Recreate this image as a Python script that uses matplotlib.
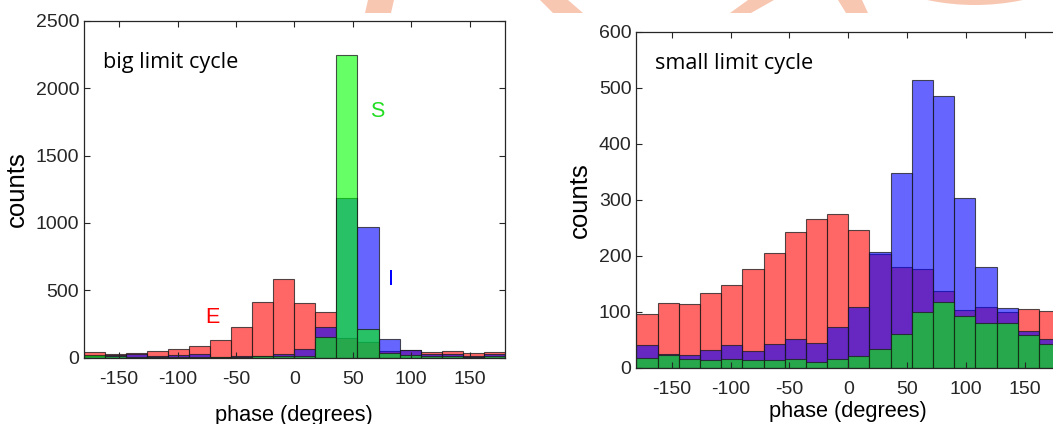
import numpy as np
import matplotlib
matplotlib.use("Agg")
import matplotlib.pyplot as plt
from matplotlib.patches import Polygon, Ellipse

plt.rcParams["axes.unicode_minus"] = False

# phase histograms, 20 bins of 18 degrees over [-180, 180]
edges = np.linspace(-180, 180, 21)
centers = (edges[:-1] + edges[1:]) / 2

# big limit cycle counts per bin
big_E = [45, 25, 32, 50, 67, 87, 129, 225, 410, 581, 403, 336, 150, 115, 52, 60, 40, 48, 35, 40]
big_I = [15, 20, 25, 10, 20, 25, 8, 10, 15, 25, 65, 229, 1182, 973, 136, 60, 25, 30, 15, 25]
big_S = [20, 10, 5, 5, 8, 5, 8, 8, 12, 10, 15, 157, 2245, 210, 35, 20, 15, 10, 8, 10]

# small limit cycle counts per bin
small_E = [95, 115, 113, 133, 147, 176, 204, 242, 265, 274, 245, 203, 179, 176, 137, 103, 108, 99, 104, 101]
small_I = [40, 25, 22, 31, 40, 30, 43, 51, 44, 73, 108, 207, 347, 513, 486, 303, 180, 106, 65, 51]
small_S = [18, 23, 15, 13, 16, 14, 13, 16, 11, 16, 21, 34, 60, 100, 118, 93, 80, 79, 59, 43]

tick_font = "Liberation Sans"
note_font = "Open Sans"

fig = plt.figure(figsize=(10.53, 4.24), dpi=100)


def panel(rect, E, I, S, ymax, yticks, title, title_y, xpad):
    ax = fig.add_axes(rect)
    for counts, rgb in ((E, (1, 0, 0)), (I, (0, 0, 1)), (S, (0, 1, 0))):
        ax.hist(centers, bins=edges, weights=counts,
                facecolor=rgb + (0.6,), edgecolor=(0.1, 0.1, 0.1, 0.75),
                linewidth=0.8)
    ax.set_xlim(-180, 180)
    ax.set_ylim(0, ymax)
    ax.set_xticks([-150, -100, -50, 0, 50, 100, 150])
    ax.set_yticks(yticks)
    ax.tick_params(direction="in", length=4, width=0.8, top=True, right=True,
                   labelsize=14, colors="#262626")
    ax.tick_params(axis="x", pad=9.5)
    ax.tick_params(axis="y", pad=3.5)
    for lab in ax.get_xticklabels() + ax.get_yticklabels():
        lab.set_fontfamily(tick_font)
    for sp in ax.spines.values():
        sp.set_color("#262626")
        sp.set_linewidth(0.9)
    ax.set_xlabel("phase (degrees)", fontsize=15.7, family=tick_font, labelpad=xpad)
    ax.set_ylabel("counts", fontsize=18.5, family=tick_font, labelpad=5)
    ax.text(-164, title_y, title, fontsize=15.6, family=note_font,
            va="center", ha="left", color="black")
    return ax


ax1 = panel([0.0798, 0.1563, 0.3995, 0.7948], big_E, big_I, big_S,
            2500, [0, 500, 1000, 1500, 2000, 2500], "big limit cycle", 2190, 12)
ax1.text(-70, 300, "E", color="red", fontsize=15.5, family=tick_font, ha="center", va="center")
ax1.text(83, 580, "I", color="blue", fontsize=15.5, family=tick_font, ha="center", va="center")
ax1.text(71, 1830, "S", color="#22dd22", fontsize=15.5, family=tick_font, ha="center", va="center")

ax2 = panel([0.6044, 0.1328, 0.4023, 0.7925], small_E, small_I, small_S,
            600, [0, 100, 200, 300, 400, 500, 600], "small limit cycle", 544, 2.5)

# faint logo strip across the top edge
W, H = 1053.0, 424.0
logo = "#f8c7b2"
strokes = [
    [(368, 0), (394, 0), (391, 13), (365, 13)],
    [(540, 0), (568, 0), (583, 13), (553, 13)],
    [(748, 0), (774, 0), (751, 13), (730, 13)],
    [(838, 0), (862, 0), (868, 13), (846, 13)],
]
for pts in strokes:
    fig.patches.append(Polygon([(x / W, 1 - y / H) for x, y in pts], closed=True,
                               transform=fig.transFigure, facecolor=logo,
                               edgecolor="none", zorder=0))
fig.patches.append(Ellipse((975 / W, 1 + 228 / H), 466 / W, 466 / H,
                           transform=fig.transFigure, facecolor=logo,
                           edgecolor="none", zorder=0))

fig.savefig("out.png", dpi=100)
